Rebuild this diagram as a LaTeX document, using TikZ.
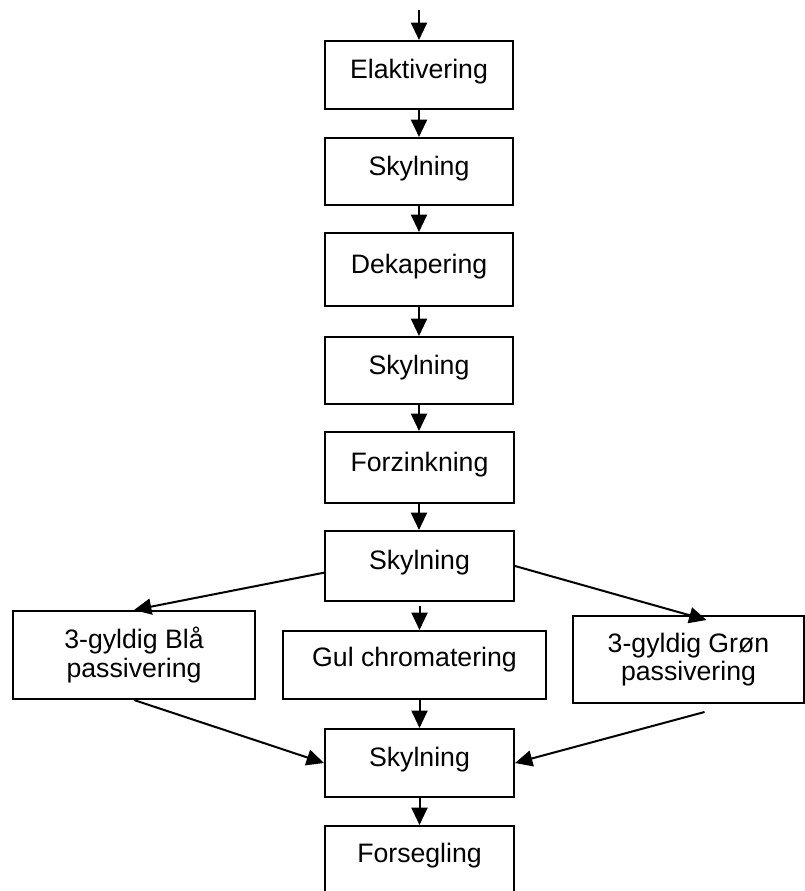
\documentclass[tikz,border=0pt]{standalone}
\usepackage{fontspec}
\setmainfont{Liberation Sans}
\usetikzlibrary{arrows.meta,calc}
\begin{document}
\begin{tikzpicture}[x=0.75pt,y=-0.75pt,
  procbox/.style={draw,line width=1.5pt,inner sep=0pt,
    font=\fontsize{20pt}{21.5pt}\selectfont,text height=14.3pt,text depth=9pt},
  twoline/.style={draw,line width=1.5pt,inner sep=0pt,align=center,
    font=\fontsize{20pt}{21.5pt}\selectfont},
  conn/.style={line width=1.5pt,-{Triangle[length=13pt,width=12pt]}}]
\useasboundingbox (0,0) rectangle (805,891);
\clip (0,0) rectangle (805,891);
\node[procbox,minimum width=141pt,minimum height=51pt] (e) at (419,75) {Elaktivering};
\node[procbox,minimum width=141pt,minimum height=50.25pt] (s1) at (419,171.5) {Skylning};
\node[procbox,minimum width=141pt,minimum height=54.75pt] (d) at (419,269.5) {Dekapering};
\node[procbox,minimum width=141pt,minimum height=50.25pt] (s2) at (419,370.5) {Skylning};
\node[procbox,minimum width=141.75pt,minimum height=53.25pt] (f) at (419.5,467.5) {Forzinkning\hspace{6pt}};
\node[procbox,minimum width=141.75pt,minimum height=52.5pt] (s3) at (419.5,566) {Skylning};
\node[twoline,minimum width=181.5pt,minimum height=66pt] (bla) at (134,655) {3-gyldig Blå\\passivering};
\node[procbox,text depth=12pt,minimum width=197.25pt,minimum height=51pt] (gul) at (414.5,665) {Gul chromatering};
\node[twoline,minimum width=173.25pt,minimum height=65.25pt] (gron) at (688.5,659.5) {3-gyldig Grøn\\passivering};
\node[procbox,minimum width=141.75pt,minimum height=51pt] (s4) at (419.5,763) {Skylning};
\node[procbox,minimum width=141.75pt,minimum height=49.5pt] (fo) at (419.5,859) {Forsegling};
\coordinate (top) at (419,10);
\draw[conn] (top) -- (e.north);
\draw[conn] (e.south) -- (s1.north);
\draw[conn] (s1.south) -- (d.north);
\draw[conn] (d.south) -- (s2.north);
\draw[conn] (s2.south) -- (s2.south |- f.north);
\draw[conn] (s2.south |- f.south) -- (s2.south |- s3.north);
\draw[conn] (s3.184) -- (bla.north);
\draw[conn] ($(s3.south)+(0,4)$) -- (s3.south |- gul.north);
\draw[conn] (s3.east) -- ($(gron.north)+(18,5)$);
\draw[conn] (gul.south -| s4.north) -- (s4.north);
\draw[conn] (bla.south) -- (s4.west);
\draw[conn] ($(gron.south)+(16,8)$) -- (s4.east);
\draw[conn] (s4.south) -- (fo.north);
\end{tikzpicture}
\end{document}
